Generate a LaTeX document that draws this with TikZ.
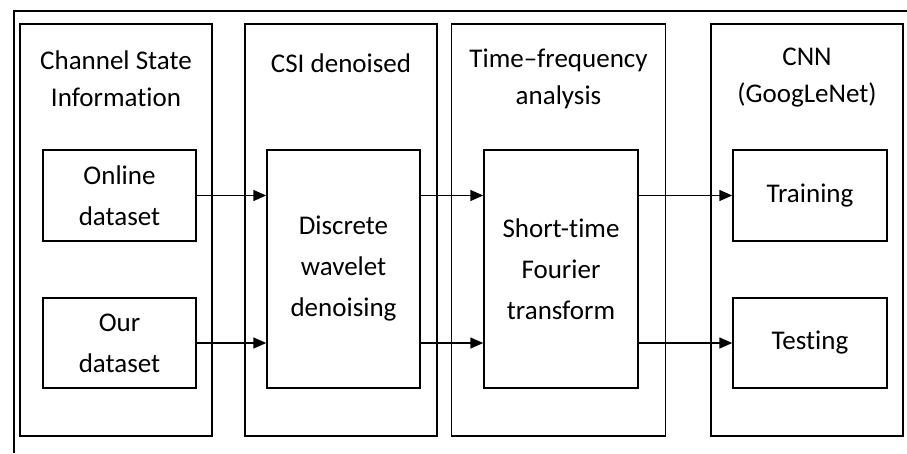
\documentclass[tikz,border=0pt]{standalone}
\usepackage{fontspec}
\setmainfont[RawFeature={-liga;-dlig;-clig}]{Carlito}
\usetikzlibrary{arrows.meta}
\begin{document}
\begin{tikzpicture}[x=1pt,y=-1pt,
  lw/.style={line width=1.5pt},
  colbox/.style={draw,lw,inner sep=0pt,minimum width=192pt,minimum height=412pt},
  inbox/.style={draw,lw,inner sep=0pt,minimum width=153pt,align=center,
    font=\fontsize{27}{41}\selectfont},
  ttl/.style={inner sep=0pt,align=center,font=\fontsize{27}{37}\selectfont},
  arr/.style={lw,-{Triangle[length=13pt,width=11pt]}}]
\useasboundingbox (0,0) rectangle (907,453);
\coordinate (ftr) at (907,11);
\coordinate (ftl) at (14,11);
\coordinate (fbl) at (14,453);
\draw[lw] (ftr) -- (ftl) -- (fbl);
% columns
\node[colbox] (c1) at (116,230) {};
\node[colbox] (c2) at (341,230) {};
\node[colbox,minimum width=214pt] (c3) at (558.5,230) {};
\node[colbox] (c4) at (807,230) {};
% titles
\node[ttl] (t1) at (116,79) {Channel State\\Information};
\node[ttl] (t2) at (341,63) {CSI denoised};
\node[ttl] (t3) at (558.5,79) {Time--frequency\\analysis};
\node[ttl] (t4) at (807,78) {CNN\\(GoogLeNet)};
% inner boxes
\node[inbox,minimum height=91pt] (on) at (119.5,195.5) {Online\\dataset};
\node[inbox,minimum height=90pt] (our) at (119.5,343) {Our\\dataset};
\node[inbox,minimum height=238pt] (dwt) at (343.5,269) {Discrete\\wavelet\\denoising};
\node[inbox,minimum width=154pt,minimum height=238pt] (stft) at (561,269) {Short-time\\Fourier\\transform};
\node[inbox,minimum width=154pt,minimum height=91pt] (tr) at (810,195.5) {Training};
\node[inbox,minimum width=154pt,minimum height=90pt] (te) at (810,343) {Testing};
% arrows
\draw[arr] (on.east) -- (dwt.west |- on.east);
\draw[arr] (our.east) -- (dwt.west |- our.east);
\draw[arr] (dwt.east |- on.east) -- (stft.west |- on.east);
\draw[arr] (dwt.east |- our.east) -- (stft.west |- our.east);
\draw[arr] (stft.east |- tr.west) -- (tr.west);
\draw[arr] (stft.east |- te.west) -- (te.west);
\end{tikzpicture}
\end{document}
